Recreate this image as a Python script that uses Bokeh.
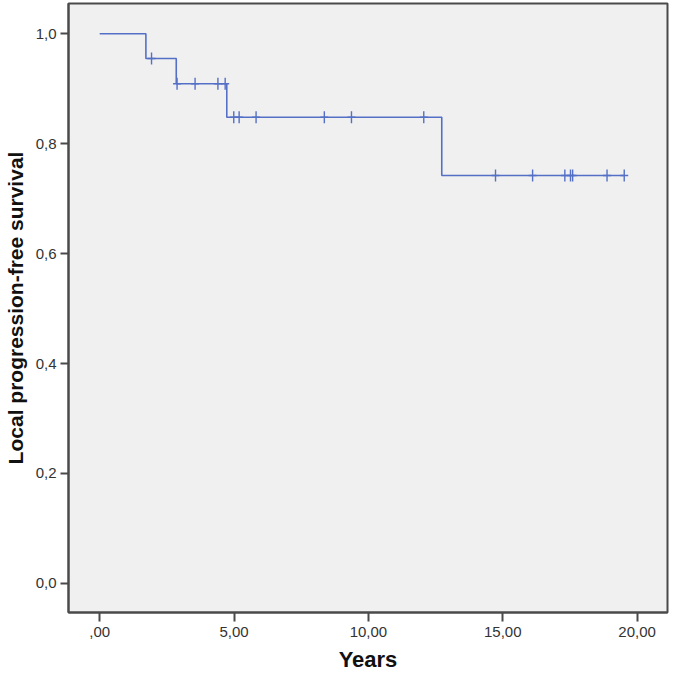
import numpy as np
from bokeh.plotting import figure
from bokeh.models import Range1d, FixedTicker
from bokeh.embed import file_html
from bokeh.resources import INLINE

# Kaplan-Meier step data
event_times = [0.0, 1.72, 2.85, 4.73, 12.73]
survival = [1.0, 0.955, 0.909, 0.848, 0.742]
end_time = 19.52

# censored observations (time, survival level)
censor_times = [1.93, 2.88, 3.55, 4.40, 4.67, 4.99, 5.19, 5.82, 8.36, 9.37, 12.06,
                14.73, 16.11, 17.31, 17.52, 17.60, 18.88, 19.52]
censor_surv = [0.955, 0.909, 0.909, 0.909, 0.909, 0.848, 0.848, 0.848, 0.848, 0.848, 0.848,
               0.742, 0.742, 0.742, 0.742, 0.742, 0.742, 0.742]

x_ticks = [0, 5, 10, 15, 20]
x_labels = [",00", "5,00", "10,00", "15,00", "20,00"]
y_ticks = [0.0, 0.2, 0.4, 0.6, 0.8, 1.0]
y_labels = ["0,0", "0,2", "0,4", "0,6", "0,8", "1,0"]

LINE = "#5470c6"

p = figure(width=669, height=674, output_backend="svg", toolbar_location=None,
           x_range=Range1d(-1.16, 21.13), y_range=Range1d(-0.053, 1.055),
           min_border_left=68, min_border_right=2, min_border_top=3, min_border_bottom=60)

p.background_fill_color = "#f0f0f0"
p.border_fill_color = "white"
p.outline_line_color = "#4a4a4a"
p.outline_line_width = 2
p.grid.visible = False

# step line
xs = []
ys = []
for i, (t, s) in enumerate(zip(event_times, survival)):
    if i > 0:
        xs.append(t)
        ys.append(survival[i - 1])
    xs.append(t)
    ys.append(s)
xs.append(end_time)
ys.append(survival[-1])
p.line(xs, ys, line_color=LINE, line_width=1.6)

p.scatter(censor_times, censor_surv, marker="dash", angle=np.pi / 2, size=12,
          line_color=LINE, line_width=1.4)
p.scatter(censor_times, censor_surv, marker="dash", size=8,
          line_color=LINE, line_width=1.4)

for ax in (p.xaxis[0], p.yaxis[0]):
    ax.axis_line_color = "#4a4a4a"
    ax.axis_line_width = 2
    ax.major_tick_line_color = "#4a4a4a"
    ax.major_tick_line_width = 2
    ax.minor_tick_line_color = None
    ax.major_tick_in = 0
    ax.major_label_text_font = "Liberation Sans"
    ax.major_label_text_font_size = "15px"
    ax.major_label_text_color = "#333333"
    ax.axis_label_text_font = "Liberation Sans"
    ax.axis_label_text_font_style = "bold"
    ax.axis_label_text_color = "#111111"

p.xaxis.ticker = FixedTicker(ticks=x_ticks)
p.xaxis.major_label_overrides = {t: l for t, l in zip(x_ticks, x_labels)}
p.xaxis.major_tick_out = 9
p.xaxis.major_label_standoff = 5
p.xaxis.axis_label = "Years"
p.xaxis.axis_label_text_font_size = "22px"
p.xaxis.axis_label_standoff = 7

p.yaxis.ticker = FixedTicker(ticks=y_ticks)
p.yaxis.major_label_overrides = {t: l for t, l in zip(y_ticks, y_labels)}
p.yaxis.major_tick_out = 8
p.yaxis.major_label_standoff = 4
p.yaxis.axis_label = "Local progression-free survival"
p.yaxis.axis_label_text_font_size = "21px"
p.yaxis.axis_label_standoff = 6

open("out.html", "w").write(file_html(p, INLINE))
